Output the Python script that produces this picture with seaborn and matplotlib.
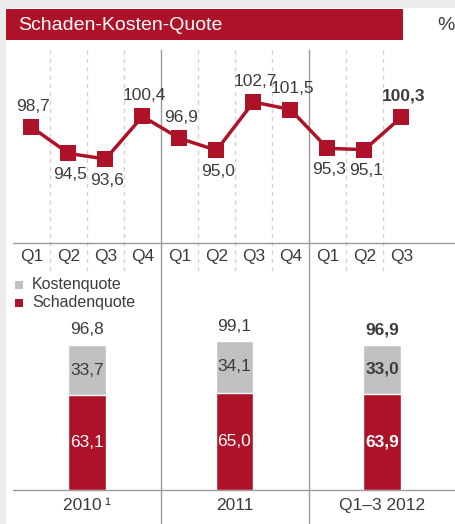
import matplotlib
matplotlib.use("Agg")
import matplotlib.pyplot as plt
import seaborn as sns
from matplotlib.patches import Rectangle

# quarterly combined ratio
quarters = ["Q1", "Q2", "Q3", "Q4", "Q1", "Q2", "Q3", "Q4", "Q1", "Q2", "Q3"]
quarter_values = [98.7, 94.5, 93.6, 100.4, 96.9, 95.0, 102.7, 101.5, 95.3, 95.1, 100.3]
label_side = ["up", "down", "down", "up", "up", "down", "up", "up", "down", "down", "up"]

# yearly split
periods = ["2010\u2009¹", "2011", "Q1–3 2012"]
kostenquote = [33.7, 34.1, 33.0]
schadenquote = [63.1, 65.0, 63.9]
totals = [96.8, 99.1, 96.9]

RED = "#ae1228"
GRAY = "#c0c0c0"
TXT = "#3c3c3c"
W, H = 456, 524

sns.set_theme(style="white")
plt.rcParams["font.family"] = ["Liberation Sans", "DejaVu Sans"]

fig = plt.figure(figsize=(W / 100, H / 100), dpi=100, facecolor="white")


def box(x, y, w, h):
    return [x / W, 1 - (y + h) / H, w / W, h / H]


# background / decoration layer in pixel coordinates
bg = fig.add_axes([0, 0, 1, 1])
bg.set_xlim(0, W)
bg.set_ylim(H, 0)
bg.axis("off")
bg.add_patch(Rectangle((0, 0), W, 8, color="#ececec", lw=0))
bg.add_patch(Rectangle((0, 0), 6, H, color="#ececec", lw=0))
bg.add_patch(Rectangle((6, 9), 397, 31, color=RED, lw=0))
bg.text(18, 25, "Schaden-Kosten-Quote", color="white", fontsize=14, va="center", ha="left")
bg.text(437, 25, "%", color=TXT, fontsize=14, va="center", ha="left")

slot = 37
x0 = 13
for k in range(1, len(quarters)):
    xs = x0 + slot * k
    if k in (4, 8):
        bg.plot([xs, xs], [50, H], color="#9a9a9a", lw=1)
    else:
        bg.plot([xs, xs], [50, 272], color="#d2d2d2", lw=1, ls=(0, (3, 3)))
bg.plot([x0, W], [243, 243], color="#9a9a9a", lw=1)
bg.plot([x0, W], [490, 490], color="#9a9a9a", lw=1)

# legend
bg.add_patch(Rectangle((15, 281), 8, 8, color=GRAY, lw=0))
bg.add_patch(Rectangle((15, 299), 8, 8, color=RED, lw=0))
bg.text(32, 285, "Kostenquote", color=TXT, fontsize=11.5, va="center")
bg.text(32, 302, "Schadenquote", color=TXT, fontsize=11.5, va="center")

# line chart
ax = fig.add_axes(box(x0, 50, W - x0, 193))
ax.patch.set_alpha(0)
idx = list(range(len(quarters)))
sns.lineplot(x=idx, y=quarter_values, ax=ax, color=RED, lw=2.5, marker="s",
             markersize=11, markeredgewidth=0, markerfacecolor=RED)
ax.set_xlim(-0.5, (W - x0) / slot - 0.5)
ax.set_ylim(80.2, 111.0)
for i, (v, side) in enumerate(zip(quarter_values, label_side)):
    off = 21 if side == "up" else -21
    bold = i == len(quarter_values) - 1
    ax.annotate(f"{v:.1f}".replace(".", ","), (i, v), xytext=(2, off),
                textcoords="offset pixels", ha="center", va="center",
                fontsize=12.5, color=TXT, fontweight="bold" if bold else "normal")
ax.set_xticks(idx)
ax.set_xticklabels(quarters, fontsize=12.5, color=TXT)
ax.tick_params(axis="x", length=0, pad=4)
ax.set_yticks([])
ax.set_xlabel("")
for s in ax.spines.values():
    s.set_visible(False)

# stacked bars
bx = fig.add_axes(box(x0, 310, W - x0, 180))
bx.patch.set_alpha(0)
sns.barplot(x=periods, y=totals, ax=bx, color=GRAY, width=0.257, saturation=1)
sns.barplot(x=periods, y=schadenquote, ax=bx, color=RED, width=0.257, saturation=1,
            edgecolor="white", linewidth=1)
bx.set_xlim(-0.5, 2.5)
bx.set_ylim(0, 120)
for i in range(len(periods)):
    fw = "bold" if i == 2 else "normal"
    bx.text(i, schadenquote[i] / 2, f"{schadenquote[i]:.1f}".replace(".", ","),
            ha="center", va="center", color="white", fontsize=12.5, fontweight=fw)
    bx.text(i, schadenquote[i] + kostenquote[i] / 2, f"{kostenquote[i]:.1f}".replace(".", ","),
            ha="center", va="center", color=TXT, fontsize=12.5, fontweight=fw)
    bx.annotate(f"{totals[i]:.1f}".replace(".", ","), (i, totals[i]), xytext=(0, 15),
                textcoords="offset pixels", ha="center", va="center",
                color=TXT, fontsize=12.5, fontweight=fw)
bx.set_xticks(range(len(periods)))
bx.set_xticklabels(periods, fontsize=12.5, color=TXT)
bx.tick_params(axis="x", length=0, pad=6)
bx.set_yticks([])
bx.set_xlabel("")
bx.set_ylabel("")
for s in bx.spines.values():
    s.set_visible(False)

fig.savefig("out.png", dpi=100, facecolor="white")
